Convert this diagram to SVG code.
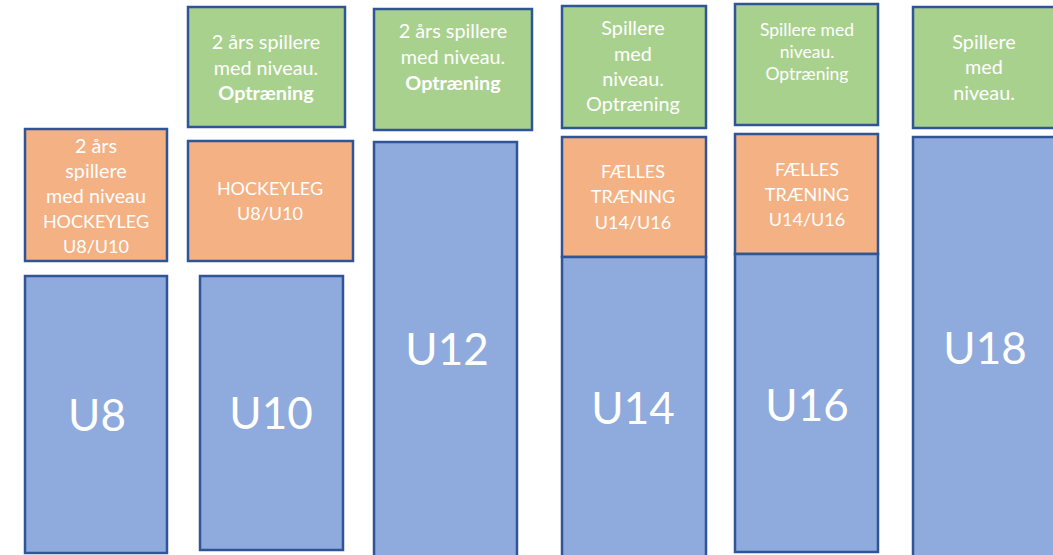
<svg xmlns="http://www.w3.org/2000/svg" width="1053" height="555" viewBox="0 0 1053 555">
<style>
rect{stroke:#2F5597;stroke-width:2.5}
.b{fill:#8FAADC}.o{fill:#F4B183}.g{fill:#A9D18E}
text{font-family:Lato,"Open Sans","Liberation Sans",sans-serif;fill:#fff;text-anchor:middle}
.s{font-size:18px}.l{font-size:19.8px}.xs{font-size:17.5px}.big{font-size:44px}
.bd{font-weight:bold}
</style>
<rect width="1053" height="555" fill="#fff" style="stroke:none"/>
<g id="u8">
<rect class="o" x="25" y="129" width="142" height="132"/>
<text class="s"><tspan x="96" y="153" class="l">2 års</tspan><tspan x="96" y="178" class="l">spillere</tspan><tspan x="96" y="203" class="l">med niveau</tspan><tspan x="96" y="228">HOCKEYLEG</tspan><tspan x="96" y="253">U8/U10</tspan></text>
<rect class="b" x="25" y="276" width="142" height="277"/>
<text class="big" x="97" y="431">U8</text>
</g>
<g id="u10">
<rect class="g" x="188" y="7" width="157" height="120"/>
<text class="l"><tspan x="266" y="49">2 års spillere</tspan><tspan x="266" y="75">med niveau.</tspan><tspan x="266" y="100" class="bd">Optræning</tspan></text>
<rect class="o" x="188" y="141" width="165" height="120"/>
<text class="s"><tspan x="270" y="195">HOCKEYLEG</tspan><tspan x="270" y="220">U8/U10</tspan></text>
<rect class="b" x="200" y="276" width="143" height="274"/>
<text class="big" x="271" y="429">U10</text>
</g>
<g id="u12">
<rect class="g" x="374" y="9" width="158" height="121"/>
<text class="l"><tspan x="453" y="38">2 års spillere</tspan><tspan x="453" y="64">med niveau.</tspan><tspan x="453" y="90" class="bd">Optræning</tspan></text>
<rect class="b" x="374" y="142" width="143" height="416"/>
<text class="big" x="447" y="365">U12</text>
</g>
<g id="u14">
<rect class="g" x="562" y="6" width="144" height="122"/>
<text class="l"><tspan x="633" y="35">Spillere</tspan><tspan x="633" y="61">med</tspan><tspan x="633" y="86">niveau.</tspan><tspan x="633" y="111">Optræning</tspan></text>
<rect class="o" x="562" y="137" width="144" height="120"/>
<rect class="b" x="562" y="257" width="144" height="301"/>
<text class="s"><tspan x="633" y="178">FÆLLES</tspan><tspan x="633" y="203">TRÆNING</tspan><tspan x="633" y="229">U14/U16</tspan></text>
<text class="big" x="633" y="424">U14</text>
</g>
<g id="u16">
<rect class="g" x="735" y="4" width="143" height="121"/>
<text class="xs"><tspan x="807" y="36">Spillere med</tspan><tspan x="807" y="58">niveau.</tspan><tspan x="807" y="80">Optræning</tspan></text>
<rect class="o" x="735" y="134" width="143" height="120"/>
<rect class="b" x="735" y="254" width="143" height="298"/>
<text class="s"><tspan x="807" y="176">FÆLLES</tspan><tspan x="807" y="201">TRÆNING</tspan><tspan x="807" y="226">U14/U16</tspan></text>
<text class="big" x="807" y="421">U16</text>
</g>
<g id="u18">
<rect class="g" x="913" y="7" width="160" height="121"/>
<text class="l"><tspan x="984" y="49">Spillere</tspan><tspan x="984" y="74">med</tspan><tspan x="984" y="100">niveau.</tspan></text>
<rect class="b" x="913" y="137" width="160" height="421"/>
<text class="big" x="985" y="364">U18</text>
</g>
<g id="connectors"/>
</svg>
